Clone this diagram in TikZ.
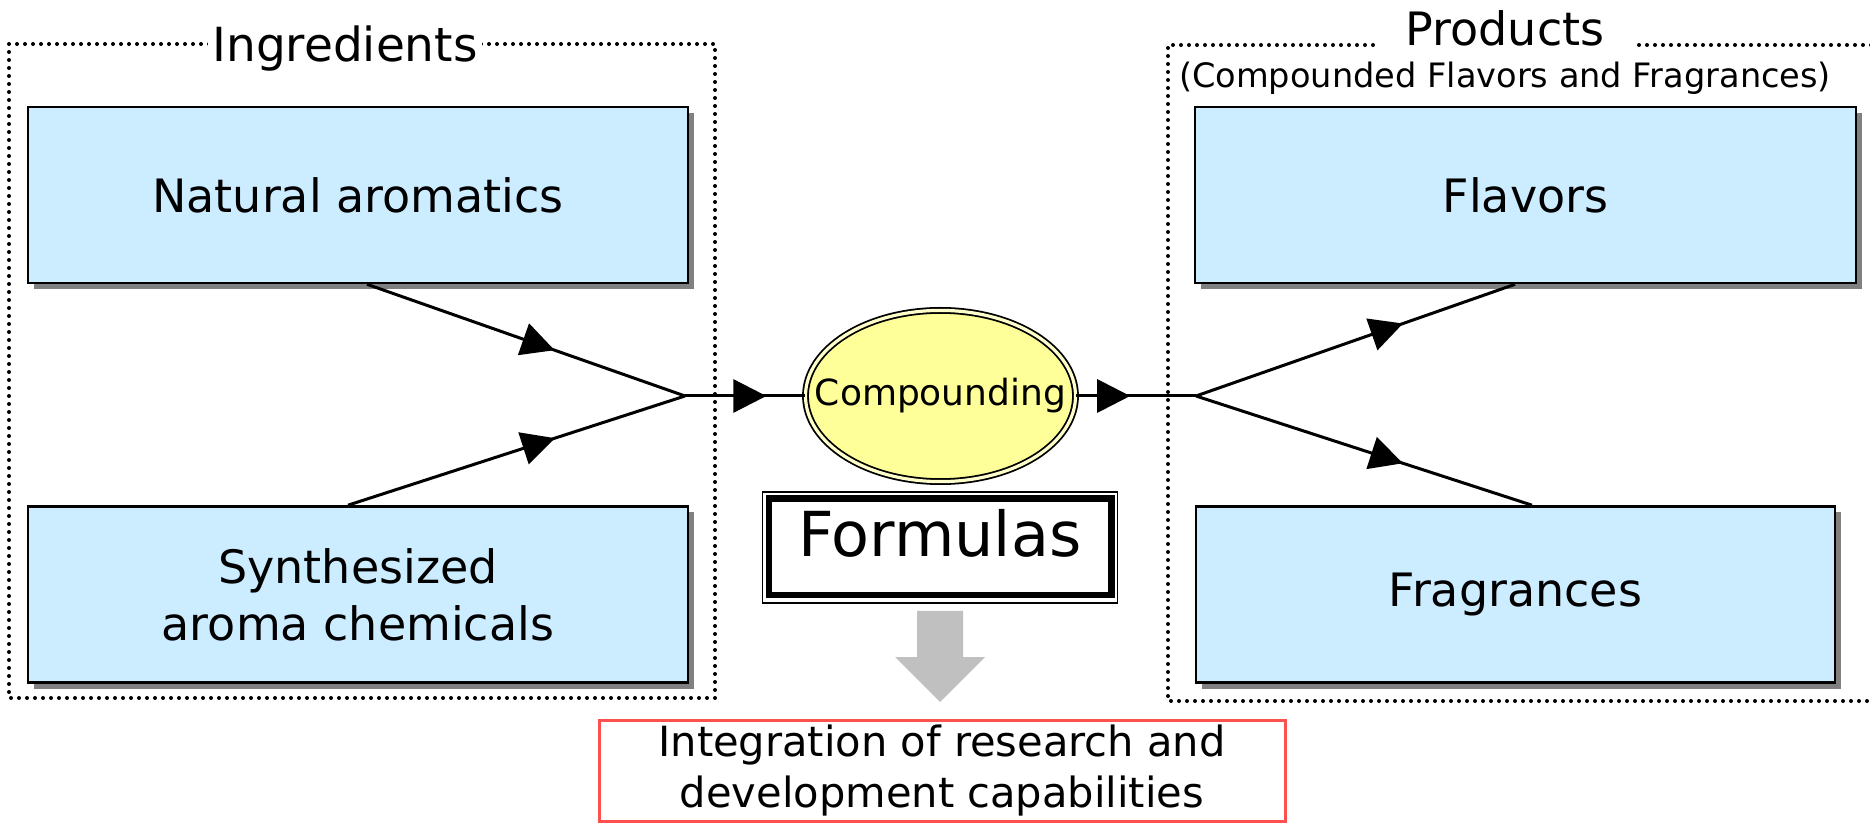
\documentclass[tikz,border=0pt]{standalone}
\usepackage{fontspec}
\setmainfont{DejaVu Sans}
\usetikzlibrary{shadows,decorations.markings,arrows.meta,calc,shapes.geometric}
\definecolor{boxblue}{HTML}{CCECFF}
\definecolor{compyellow}{HTML}{FFFF99}
\definecolor{gapyellow}{HTML}{FFFFCC}
\definecolor{shadowgray}{HTML}{808080}
\definecolor{arrowgray}{HTML}{C0C0C0}
\definecolor{boxred}{HTML}{FF5050}
\begin{document}
\begin{tikzpicture}[x=0.5pt,y=-0.5pt,
  bluebox/.style={draw=black, line width=1.3pt, fill=boxblue, minimum height=88pt,
    drop shadow={shadow xshift=3pt, shadow yshift=-3pt, fill=shadowgray, opacity=1},
    font=\fontsize{23}{28.5}\selectfont, align=center, inner sep=0pt},
  frame/.style={line width=2pt, dash pattern=on 0pt off 4pt, line cap=round},
  conn/.style={line width=1.5pt},
  midarrow/.style={postaction={decorate}, decoration={markings,
    mark=at position #1 with {\arrow{Triangle[length=16.5pt,width=16.5pt]}}}},
]
\useasboundingbox (0,0) rectangle (1870,823);

% frames
\draw[frame] (9,44) rectangle (715,698);
\draw[frame] (1373,45) -- (1168,45) -- (1168,701) -- (1872,701);
\draw[frame] (1639,45) -- (1872,45);

% titles
\node[anchor=base, fill=white, inner xsep=2pt, inner ysep=1pt,
  font=\fontsize{23.5}{28}\selectfont] (ingt) at (345,62) {Ingredients};
\node[anchor=base, font=\fontsize{23}{28}\selectfont] (prodt) at (1505,46) {Products};
\node[anchor=base, font=\fontsize{16.8}{20}\selectfont] (prods) at (1505,88) {(Compounded Flavors and Fragrances)};

% boxes
\node[bluebox, minimum width=330pt] (nat) at (358,195) {Natural aromatics};
\node[bluebox, minimum width=330pt] (syn) at (358,594.5) {Synthesized\\aroma chemicals};
\node[bluebox, minimum width=330.5pt] (flav) at (1525.5,195) {Flavors};
\node[bluebox, minimum width=319.5pt] (frag) at (1515.5,594.5) {Fragrances};

% compounding ellipse
\node[ellipse, draw=black, line width=0.9pt, double=gapyellow, double distance=1.6pt,
  fill=compyellow, minimum width=135pt, minimum height=85.6pt, inner sep=0pt] (comp) at (940.5,396) {};
\node[font=\fontsize{18}{22}\selectfont, inner sep=0pt] (compt) at (comp.center) {Compounding};

% formulas box
\node[draw=black, line width=0.7pt, minimum width=177.5pt, minimum height=55.5pt,
  inner sep=0pt, text height=0.95em, font=\fontsize{31}{36}\selectfont] (form) at (940,547.5) {Formulas};
\draw[line width=3.3pt] ($(form.north west)+(7,7.5)$) rectangle ($(form.south east)+(-7,-8.5)$);

% gray arrow
\fill[arrowgray] (917,611) -- (963,611) -- (963,657) -- (985,657) -- (940,702) -- (895,657) -- (917,657) -- cycle;

% red box
\node[draw=boxred, line width=1.5pt, minimum width=343pt, minimum height=50.5pt, align=center,
  inner sep=0pt, font=\fontsize{20.8}{25.5}\selectfont] (rd) at (942,770.5)
  {Integration of research and\\development capabilities};

% connectors
\coordinate (jl) at (685,396);
\coordinate (jr) at (1196,396);
\draw[conn, midarrow=0.59] ($(nat.south)+(9,0)$) -- (jl);
\draw[conn, midarrow=0.614] ($(syn.north)+(-10,0)$) -- (jl);
\draw[conn, midarrow=0.68] (jl) -- (comp.west);
\draw[conn, midarrow=0.45] (comp.east) -- (jr);
\draw[conn, midarrow=0.649] (jr) -- ($(flav.south)+(-10.5,0)$);
\draw[conn, midarrow=0.616] (jr) -- ($(frag.north)+(16.5,0)$);
\end{tikzpicture}
\end{document}
